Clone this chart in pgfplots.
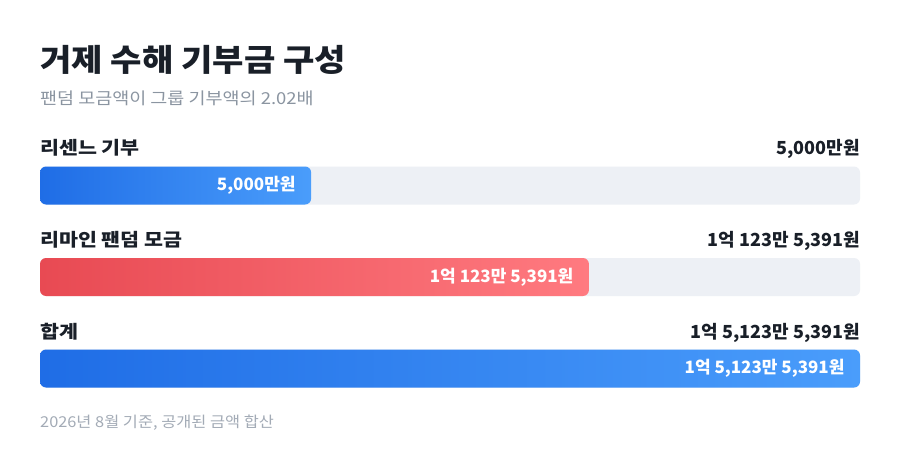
\documentclass[border=0pt]{standalone}
\usepackage{fontspec}
\setmainfont{Noto Sans CJK KR}
% Hangul in the reference is set wider than Noto's, so widen the text-heavy lines
\newfontfamily\widetitle[FakeStretch=1.1]{Noto Sans CJK KR}
\newfontfamily\widesub[FakeStretch=1.12]{Noto Sans CJK KR}
\newfontfamily\widelabel[FakeStretch=1.145]{Noto Sans CJK KR}
\newfontfamily\widefoot[FakeStretch=1.09]{Noto Sans CJK KR}
\usepackage{pgfplots}
\pgfplotsset{compat=1.18}

\definecolor{ink}{HTML}{191F28}
\definecolor{subgray}{HTML}{8B95A1}
\definecolor{footgray}{HTML}{A3ABB6}
\definecolor{track}{HTML}{EDF0F5}
\definecolor{blueL}{HTML}{1F6DE6}
\definecolor{blueR}{HTML}{4A9DFB}
\definecolor{redL}{HTML}{E84A53}
\definecolor{redR}{HTML}{FF7A80}

\begin{document}
\begin{tikzpicture}[x=1pt, y=1pt]
    % canvas of 900 x 469
    \fill[white] (0,0) rectangle (900,469);

    % title and subtitle
    \node[anchor=base west, inner sep=0pt, text=ink, font=\widetitle\fontsize{31}{36}\selectfont\bfseries] at (40,397) {거제 수해 기부금 구성};
    \node[anchor=base west, inner sep=0pt, text=subgray, font=\widesub\fontsize{16.5}{20}\selectfont] at (40,364) {팬덤 모금액이 그룹 기부액의 2.02배};

    % values in units of 10,000 won
    \begin{axis}[
        at={(40pt,375pt)}, anchor=north west,
        scale only axis,
        width=820pt, height=366pt,
        xmin=0, xmax=15123.5391,
        ymin=-1, ymax=3,
        y dir=reverse,
        hide axis,
        clip=false,
        xbar,
        bar width=38pt,
        bar shift=0pt,
        nodes near coords align={anchor=east},
        every node near coord/.append style={xshift=-12pt, text=white,
            font=\fontsize{17}{20}\selectfont\bfseries},
    ]
    % background tracks
    \addplot[draw=none, fill=track, rounded corners=6pt] coordinates {
        (15123.5391,0) (15123.5391,1) (15123.5391,2)};
    % bars
    \addplot[draw=none, left color=blueL, right color=blueR, rounded corners=6pt,
        nodes near coords={5,000만원}] coordinates {(5000,0)};
    \addplot[draw=none, left color=redL, right color=redR, rounded corners=6pt,
        nodes near coords={1억 123만 5,391원}] coordinates {(10123.5391,1)};
    \addplot[draw=none, left color=blueL, right color=blueR, rounded corners=6pt,
        nodes near coords={1억 5,123만 5,391원}] coordinates {(15123.5391,2)};

    % row labels
    \begin{scope}[every node/.style={inner sep=0pt, text=ink, font=\fontsize{18}{21}\selectfont\bfseries}]
    \node[anchor=base west, font=\widelabel\fontsize{18}{21}\selectfont\bfseries] at (axis cs:0,0) [yshift=30.5pt] {리센느 기부};
    \node[anchor=base east] at (axis cs:15123.5391,0) [yshift=30.5pt] {5,000만원};
    \node[anchor=base west, font=\widelabel\fontsize{18}{21}\selectfont\bfseries] at (axis cs:0,1) [yshift=30.5pt] {리마인 팬덤 모금};
    \node[anchor=base east] at (axis cs:15123.5391,1) [yshift=30.5pt] {1억 123만 5,391원};
    \node[anchor=base west, font=\widelabel\fontsize{18}{21}\selectfont\bfseries] at (axis cs:0,2) [yshift=30.5pt] {합계};
    \node[anchor=base east] at (axis cs:15123.5391,2) [yshift=30.5pt] {1억 5,123만 5,391원};
    \end{scope}
    \end{axis}

    % footer
    \node[anchor=base west, inner sep=0pt, text=footgray, font=\widefoot\fontsize{15}{18}\selectfont] at (40,42) {2026년 8월 기준, 공개된 금액 합산};
\end{tikzpicture}
\end{document}
